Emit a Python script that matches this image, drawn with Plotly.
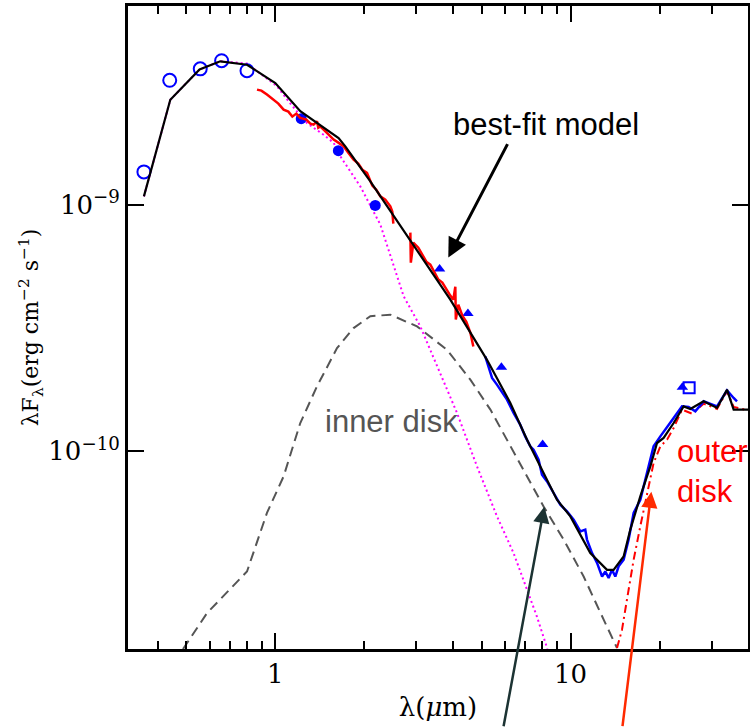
import plotly.graph_objects as go

# ---------------- data (wavelength in micron, lambda*F_lambda in erg cm^-2 s^-1) -------------
# optical photometry (open circles)
opt_wl = [0.359, 0.439, 0.557, 0.658, 0.802]
opt_f = [1.357e-9, 3.19e-9, 3.55e-9, 3.83e-9, 3.49e-9]
# near-IR photometry (filled circles)
nir_wl = [1.224, 1.635, 2.18]
nir_f = [2.23e-9, 1.655e-9, 0.993e-9]
# mid-IR photometry (filled triangles)
mir_wl = [3.6, 4.49, 5.83, 8.04, 23.9]
mir_f = [5.48e-10, 3.62e-10, 2.19e-10, 1.065e-10, 1.82e-10]
# IRAS point (open square)
iras_wl = [25.2]
iras_f = [1.81e-10]

# best-fit model (black)
model_wl = [0.359, 0.441, 0.554, 0.651, 0.802, 1.0, 1.215, 1.638, 1.726, 2.098, 3.914,
            4.575, 5.21, 6.25, 7.12, 8.10, 8.99, 9.98, 11.66, 13.28, 13.98, 15.12, 15.93,
            17.22, 18.62, 19.62, 20.65, 22.33, 24.14, 25.43, 28.21, 31.32, 33.85, 35.65, 39.9]
model_f = [1.08e-9, 2.66e-9, 3.53e-9, 3.81e-9, 3.69e-9, 3.11e-9, 2.39e-9, 1.86e-9, 1.723e-9,
           1.243e-9, 4.12e-10, 3.02e-10, 2.35e-10, 1.571e-10, 1.115e-10, 8.17e-11, 6.37e-11,
           5.45e-11, 3.87e-11, 3.31e-11, 3.31e-11, 3.75e-11, 4.82e-11, 6.57e-11, 8.69e-11,
           1.081e-10, 1.133e-10, 1.303e-10, 1.522e-10, 1.486e-10, 1.595e-10, 1.50e-10,
           1.778e-10, 1.476e-10, 1.476e-10]

# stellar photosphere (magenta dotted)
star_wl = [0.359, 0.441, 0.554, 0.651, 0.802, 0.913, 1.013, 1.124, 1.28, 1.457, 1.576, 1.66,
           1.94, 2.268, 2.72, 3.097, 3.528, 4.124, 4.82, 5.634, 6.41, 7.12, 7.69, 8.34]
star_f = [1.08e-9, 2.66e-9, 3.53e-9, 3.81e-9, 3.73e-9, 3.33e-9, 3.02e-9, 2.57e-9, 2.14e-9,
          1.92e-9, 1.78e-9, 1.57e-9, 1.186e-9, 8.30e-10, 4.25e-10, 3.21e-10, 2.21e-10,
          1.431e-10, 8.69e-11, 5.45e-11, 3.87e-11, 2.75e-11, 2.14e-11, 1.585e-11]

# inner disk (grey dashed)
inner_wl = [0.487, 0.587, 0.802, 0.937, 1.067, 1.215, 1.384, 1.618, 1.841, 2.098, 2.452, 3.019,
            3.814, 4.575, 5.35, 6.25, 7.30, 8.10, 9.47, 11.07, 12.94, 14.36]
inner_f = [1.58e-11, 2.21e-11, 3.26e-11, 5.63e-11, 7.92e-11, 1.303e-10, 1.834e-10, 2.62e-10,
           3.16e-10, 3.53e-10, 3.58e-10, 3.21e-10, 2.58e-10, 1.953e-10, 1.476e-10, 1.047e-10,
           7.44e-11, 5.98e-11, 4.39e-11, 3.11e-11, 2.08e-11, 1.596e-11]

# outer disk (red dash-dot)
outer_wl = [14.36, 14.93, 15.52, 16.35, 17.22, 18.15, 19.10, 20.13, 21.21, 22.33, 23.84, 25.77,
            28.21, 31.32, 33.85, 35.65, 39.9]
outer_f = [1.596e-11, 1.894e-11, 2.51e-11, 3.64e-11, 4.97e-11, 6.78e-11, 8.97e-11, 1.047e-10,
           1.115e-10, 1.244e-10, 1.476e-10, 1.422e-10, 1.561e-10, 1.486e-10, 1.75e-10,
           1.514e-10, 1.466e-10]

# near-IR spectrum (red, noisy; gap between K and L)
nirspec_wl = [0.867, 0.897, 0.937, 0.977, 1.024, 1.067, 1.107, 1.142, 1.178, 1.215, 1.274,
              1.314, 1.348, 1.384, 1.398, 1.420, 1.488, 1.576, 1.635, 1.703, 1.767, 1.841,
              1.910, 1.971, 2.044, 2.131, 2.198, 2.268, 2.358, 2.452, 2.490, 2.510, None,
              2.866, 2.877, 2.934, 3.050, 3.146, 3.246, 3.349, 3.455, 3.565, 3.678, 3.795,
              3.914, 4.007, 4.070, 4.086, 4.167, 4.299, 4.435, 4.575, 4.684]
nirspec_f = [2.925e-9, 2.898e-9, 2.792e-9, 2.69e-9, 2.568e-9, 2.427e-9, 2.382e-9, 2.273e-9,
             2.338e-9, 2.246e-9, 2.211e-9, 2.13e-9, 2.11e-9, 2.176e-9, 2.051e-9, 2.076e-9,
             1.958e-9, 1.834e-9, 1.783e-9, 1.723e-9, 1.624e-9, 1.522e-9, 1.466e-9, 1.386e-9,
             1.344e-9, 1.194e-9, 1.15e-9, 1.08e-9, 1.048e-9, 0.984e-9, 0.937e-9, 0.838e-9, None,
             7.70e-10, 5.82e-10, 7.01e-10, 6.69e-10, 6.27e-10, 5.87e-10, 5.71e-10, 5.35e-10,
             4.97e-10, 4.83e-10, 4.52e-10, 4.28e-10, 4.12e-10, 4.65e-10, 3.42e-10, 3.93e-10,
             3.55e-10, 3.35e-10, 3.03e-10, 2.66e-10]

# mid-IR spectrum (blue, IRS)
irs_wl = [5.14, 5.28, 5.42, 5.63, 5.86, 6.09, 6.41, 6.75, 7.02, 7.30, 7.49, 7.79, 8.00, 8.32,
          8.76, 9.23, 9.72, 10.24, 10.79, 11.21, 11.36, 11.82, 12.29, 12.78, 13.11, 13.45,
          13.81, 14.17, 14.54, 15.12, 15.72, 16.35, 17.22, 18.15, 19.10, 20.13, 21.21, 22.33,
          23.84, 25.09, 26.44, 28.21, 31.32, 33.85, 35.65, 36.6]
irs_f = [2.427e-10, 2.211e-10, 1.983e-10, 1.864e-10, 1.725e-10, 1.621e-10, 1.431e-10,
         1.283e-10, 1.15e-10, 1.048e-10, 1.016e-10, 9.25e-11, 8.04e-11, 7.55e-11, 6.78e-11,
         6.08e-11, 5.71e-11, 5.28e-11, 4.74e-11, 4.82e-11, 4.39e-11, 3.87e-11, 3.53e-11,
         3.11e-11, 3.26e-11, 3.07e-11, 3.31e-11, 3.11e-11, 3.42e-11, 3.64e-11, 4.39e-11,
         5.63e-11, 6.37e-11, 8.17e-11, 1.048e-10, 1.15e-10, 1.262e-10, 1.366e-10, 1.522e-10,
         1.514e-10, 1.453e-10, 1.595e-10, 1.522e-10, 1.768e-10, 1.646e-10, 1.595e-10]

x_ticks = [1, 10]
x_ticktext = ["1", "10"]
x_minor = [0.4, 0.5, 0.6, 0.7, 0.8, 0.9, 2, 3, 4, 5, 6, 7, 8, 9, 20, 30]
y_ticks = [1e-10, 1e-9]
y_ticktext = ["10<sup>\u221210</sup>", "10<sup>\u22129</sup>"]

BLUE = "#0000ff"
fig = go.Figure()

fig.add_trace(go.Scatter(x=inner_wl, y=inner_f, mode="lines",
                         line=dict(color="#555555", width=2, dash="10px,6px")))
fig.add_trace(go.Scatter(x=star_wl, y=star_f, mode="lines",
                         line=dict(color="#ff00ff", width=2, dash="2px,3px")))
fig.add_trace(go.Scatter(x=outer_wl, y=outer_f, mode="lines",
                         line=dict(color="#ff0000", width=2, dash="8px,4px,2px,4px")))
fig.add_trace(go.Scatter(x=opt_wl, y=opt_f, mode="markers",
                         marker=dict(symbol="circle-open", size=13, color=BLUE,
                                     line=dict(width=2, color=BLUE))))
fig.add_trace(go.Scatter(x=nir_wl, y=nir_f, mode="markers",
                         marker=dict(symbol="circle", size=11, color=BLUE)))
fig.add_trace(go.Scatter(x=mir_wl, y=mir_f, mode="markers",
                         marker=dict(symbol="triangle-up", size=10, color=BLUE)))
fig.add_trace(go.Scatter(x=iras_wl, y=iras_f, mode="markers",
                         marker=dict(symbol="square-open", size=11, color=BLUE,
                                     line=dict(width=2, color=BLUE))))
fig.add_trace(go.Scatter(x=nirspec_wl, y=nirspec_f, mode="lines", connectgaps=False,
                         line=dict(color="#ff0000", width=2.5)))
fig.add_trace(go.Scatter(x=irs_wl, y=irs_f, mode="lines",
                         line=dict(color=BLUE, width=2.5)))
fig.add_trace(go.Scatter(x=model_wl, y=model_f, mode="lines",
                         line=dict(color="black", width=2.2)))

SERIF = "DejaVu Serif"
TICKFONT = dict(family=SERIF, size=26, color="black")
TEXTFONT = "Liberation Sans, Arial, sans-serif"

fig.update_layout(
    width=750, height=728,
    margin=dict(l=128, r=2, t=6, b=79),
    plot_bgcolor="white", paper_bgcolor="white",
    showlegend=False,
)
fig.update_xaxes(
    type="log", range=[-0.4988, 1.6007], automargin=False,
    showline=True, linewidth=3, linecolor="black", mirror="allticks",
    ticks="inside", ticklen=16, tickwidth=2, tickcolor="black",
    tickvals=x_ticks, ticktext=x_ticktext, tickfont=TICKFONT,
    showgrid=False, zeroline=False,
    minor=dict(tickvals=x_minor, ticks="inside", ticklen=8, tickwidth=2,
               tickcolor="black", showgrid=False),
    title=dict(text="\u03bb(<i>\u03bc</i>m)", font=dict(family=SERIF, size=26, color="black"),
               standoff=10),
)
fig.update_yaxes(
    type="log", range=[-10.801, -8.195], automargin=False,
    showline=True, linewidth=3, linecolor="black", mirror="allticks",
    ticks="inside", ticklen=16, tickwidth=2, tickcolor="black",
    tickvals=y_ticks, ticktext=y_ticktext, tickfont=TICKFONT,
    showgrid=False, zeroline=False,
    title=dict(text="\u03bbF<sub>\u03bb</sub>(erg cm<sup>\u22122</sup> s<sup>\u22121</sup>)",
               font=dict(family=SERIF, size=22, color="black"), standoff=4),
)

# annotations (positions in log10 data units)
fig.add_annotation(x=0.9177, y=-8.6757, text="best-fit model", showarrow=False,
                   font=dict(family=TEXTFONT, size=31, color="black"))
fig.add_annotation(x=0.5858, y=-9.2148, ax=0.789, ay=-8.7487, axref="x", ayref="y",
                   text="", showarrow=True, arrowhead=2, arrowsize=1.3, arrowwidth=3,
                   arrowcolor="black")
fig.add_annotation(x=0.3928, y=-9.8796, text="inner disk", showarrow=False,
                   font=dict(family=TEXTFONT, size=31, color="#555555"))
fig.add_annotation(x=1.3545, y=-10.0823, text="outer<br>disk", showarrow=False,
                   xanchor="left", align="left",
                   font=dict(family=TEXTFONT, size=31, color="#ff0000"))
fig.add_annotation(x=0.9109, y=-10.2242, ax=0.7721, ay=-11.12, axref="x", ayref="y",
                   text="", showarrow=True, arrowhead=2, arrowsize=1.3, arrowwidth=2.5,
                   arrowcolor="#1c3333")
fig.add_annotation(x=1.2733, y=-10.1633, ax=1.1751, ay=-11.12, axref="x", ayref="y",
                   text="", showarrow=True, arrowhead=2, arrowsize=1.3, arrowwidth=2.5,
                   arrowcolor="#ff2a00")

fig.write_html("out.html", config={"displayModeBar": False},
               post_script="document.body.style.margin='0';")
